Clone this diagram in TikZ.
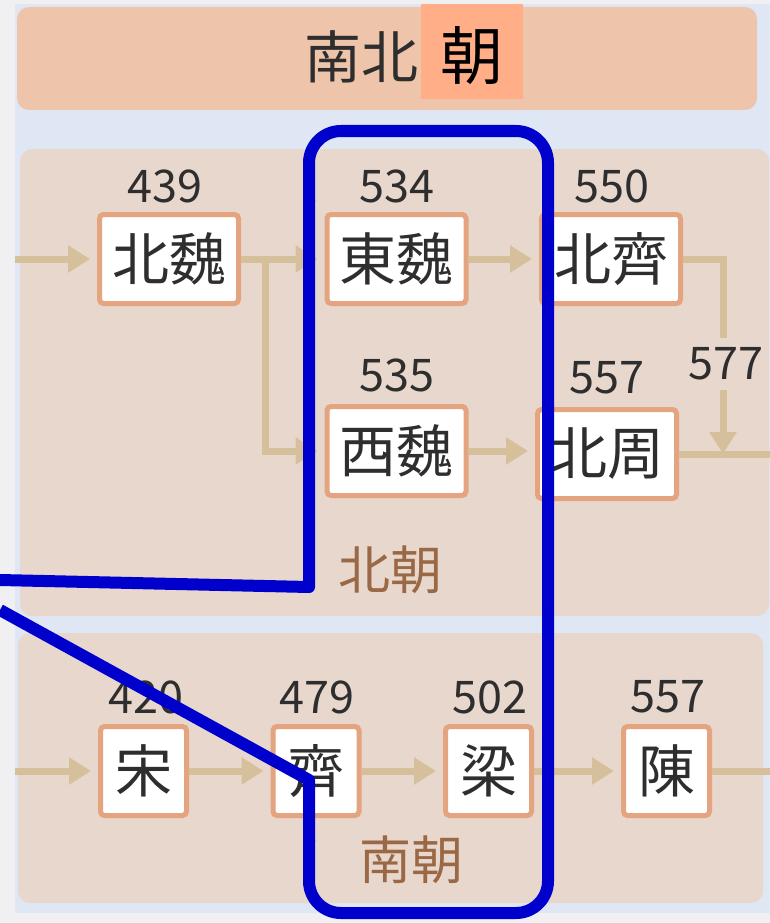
\documentclass[tikz,border=0pt]{standalone}
\usepackage{fontspec}
\newfontfamily\cjk{Noto Sans CJK JP}
\usetikzlibrary{arrows.meta}
\definecolor{pagebg}{HTML}{F0F0F3}
\definecolor{bluebg}{HTML}{E0E7F4}
\definecolor{titlebg}{HTML}{EEC4AA}
\definecolor{hilite}{HTML}{FFAE88}
\definecolor{panel}{HTML}{E8D7CD}
\definecolor{nodeborder}{HTML}{E4A47F}
\definecolor{arrowc}{HTML}{D5C09B}
\definecolor{txt}{HTML}{2E2E2E}
\definecolor{labelc}{HTML}{9A6844}
\definecolor{blueline}{HTML}{0000CC}
\begin{document}
\begin{tikzpicture}[x=1pt,y=-1pt,
  dynbox/.style={draw=nodeborder, line width=5pt, fill=white, rounded corners=4pt,
    minimum height=89pt, inner sep=0pt, text=txt, font=\cjk\fontsize{57}{57}\selectfont},
  wide/.style={dynbox, minimum width=139pt},
  narrow/.style={dynbox, minimum width=86pt},
  num/.style={text=txt, font=\cjk\fontsize{45}{45}\selectfont, inner sep=0pt},
  grouplabel/.style={text=labelc, font=\cjk\fontsize{52}{52}\selectfont, inner sep=0pt},
  arr/.style={draw=arrowc, line width=7pt, -{Triangle[length=22pt,width=26pt]}, shorten >=7pt},
  lin/.style={draw=arrowc, line width=7pt},
  blueL/.style={draw=blueline, line width=12pt, line join=round}
]
\useasboundingbox (0,0) rectangle (770,923);
% backgrounds
\fill[pagebg] (0,0) rectangle (770,923);
\fill[bluebg] (15,4) rectangle (770,913);
\fill[titlebg, rounded corners=12pt] (17,7) rectangle (757,110);
\fill[panel, rounded corners=12pt] (20,149) rectangle (769,616);
\fill[panel, rounded corners=12pt] (18,633) rectangle (763,903);
% title
\fill[hilite] (421,4) rectangle (523,99);
\node[anchor=east, inner sep=0pt, text=txt, font=\cjk\fontsize{57}{57}\selectfont] (t1) at (419,57) {南北};
\node[inner sep=0pt, text=black, font=\cjk\fontsize{63}{63}\selectfont] (t2) at (472,56) {朝};
% north nodes
\node[wide] (beiwei) at (169,259) {北魏};
\node[wide] (dongwei) at (396.5,259) {東魏};
\node[wide] (beiqi) at (611,259) {北齊};
\node[wide] (xiwei) at (396.5,451) {西魏};
\node[wide] (beizhou) at (607,454) {北周};
% south nodes
\node[narrow] (song) at (143.5,771) {宋};
\node[narrow] (qi) at (316,771) {齊};
\node[narrow] (liang) at (488.5,771) {梁};
\node[narrow] (chen) at (666.5,771) {陳};
% numbers
\node[num] (n439) at (165,186) {439};
\node[num] (n534) at (397,186) {534};
\node[num] (n550) at (612,186) {550};
\node[num] (n535) at (397,375) {535};
\node[num] (n557a) at (607,378) {557};
\node[num] (n420) at (146,697) {420};
\node[num] (n479) at (317,697) {479};
\node[num] (n502) at (490,697) {502};
\node[num] (n557b) at (668,697) {557};
% group labels
\node[grouplabel] (lbN) at (390,570) {北朝};
\node[grouplabel] (lbS) at (411,860) {南朝};
% connectors north
\coordinate (inN) at (15,259);
\coordinate (br) at (265,259);
\coordinate (join) at (723,454);
\coordinate (outN) at (770,454);
\draw[arr] (inN) -- (beiwei.west);
\draw[arr] (beiwei.east) -- (dongwei.west);
\draw[arr] (br) |- (xiwei.west);
\draw[arr] (dongwei.east) -- (beiqi.west);
\draw[arr] (xiwei.east) -- (beizhou.west |- xiwei.east);
\draw[lin] (beizhou.east) -- (outN);
\draw[arr, shorten >=0pt] (beiqi.east) -| (join);
\node[num, fill=panel, inner xsep=1pt, inner ysep=10pt] (n577) at (726,364) {577};
% connectors south
\coordinate (inS) at (15,771);
\coordinate (outS) at (770,771);
\draw[arr] (inS) -- (song.west);
\draw[arr] (song.east) -- (qi.west);
\draw[arr] (qi.east) -- (liang.west);
\draw[arr] (liang.east) -- (chen.west);
\draw[lin] (chen.east) -- (outS);
% blue annotation line
\draw[blueL] (0,580) -- (309,587) -- (309,200);
\draw[blueL, rounded corners=32pt] (309,201) -- (309,131) -- (548,131) -- (548,913) -- (309,913) -- (309,840);
\draw[blueL] (309,841) -- (309,780) -- (0,610);
\end{tikzpicture}
\end{document}
